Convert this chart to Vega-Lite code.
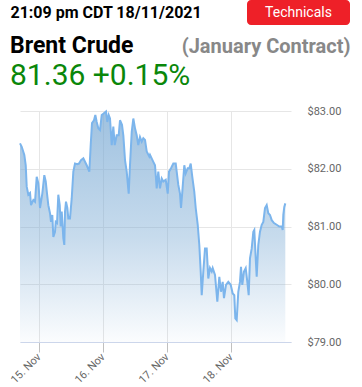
{
  "$schema": "https://vega.github.io/schema/vega-lite/v6.json",
  "width": 271,
  "height": 231,
  "autosize": {"type": "none"},
  "padding": {"left": 20, "top": 111, "right": 71, "bottom": 45},
  "background": "white",
  "config": {"font": "Roboto", "view": {"stroke": null}},
  "title": {
    "text": "Brent Crude",
    "subtitle": "81.36 +0.15%",
    "anchor": "start",
    "frame": "group",
    "dx": -10,
    "offset": -129.5,
    "font": "Roboto",
    "fontSize": 23,
    "fontWeight": "bold",
    "color": "#000000",
    "subtitleFont": "Roboto",
    "subtitleFontSize": 30,
    "subtitleFontWeight": "normal",
    "subtitleColor": "#0a870a",
    "subtitlePadding": 3
  },
  "data": {
    "values": [
      {"t": "2021-11-14T16:52", "p": 82.44},
      {"t": "2021-11-14T17:31", "p": 82.38},
      {"t": "2021-11-14T18:29", "p": 82.24},
      {"t": "2021-11-14T19:01", "p": 82.06},
      {"t": "2021-11-14T19:23", "p": 81.69},
      {"t": "2021-11-14T19:59", "p": 81.55},
      {"t": "2021-11-14T20:38", "p": 81.58},
      {"t": "2021-11-14T21:00", "p": 81.37},
      {"t": "2021-11-14T21:52", "p": 81.46},
      {"t": "2021-11-14T22:30", "p": 81.43},
      {"t": "2021-11-14T23:08", "p": 81.86},
      {"t": "2021-11-14T23:44", "p": 81.75},
      {"t": "2021-11-15T00:00", "p": 81.60},
      {"t": "2021-11-15T00:22", "p": 81.32},
      {"t": "2021-11-15T00:45", "p": 81.43},
      {"t": "2021-11-15T01:14", "p": 81.57},
      {"t": "2021-11-15T01:59", "p": 81.89},
      {"t": "2021-11-15T02:31", "p": 81.78},
      {"t": "2021-11-15T03:00", "p": 81.57},
      {"t": "2021-11-15T03:29", "p": 81.37},
      {"t": "2021-11-15T04:07", "p": 81.23},
      {"t": "2021-11-15T04:30", "p": 81.08},
      {"t": "2021-11-15T04:59", "p": 81.20},
      {"t": "2021-11-15T05:22", "p": 80.82},
      {"t": "2021-11-15T06:00", "p": 80.91},
      {"t": "2021-11-15T06:16", "p": 81.08},
      {"t": "2021-11-15T06:45", "p": 81.06},
      {"t": "2021-11-15T07:14", "p": 81.55},
      {"t": "2021-11-15T07:46", "p": 81.37},
      {"t": "2021-11-15T08:08", "p": 81.00},
      {"t": "2021-11-15T08:31", "p": 81.26},
      {"t": "2021-11-15T09:07", "p": 80.80},
      {"t": "2021-11-15T09:29", "p": 80.68},
      {"t": "2021-11-15T09:45", "p": 81.26},
      {"t": "2021-11-15T10:07", "p": 81.43},
      {"t": "2021-11-15T10:37", "p": 81.32},
      {"t": "2021-11-15T10:59", "p": 81.14},
      {"t": "2021-11-15T11:37", "p": 81.14},
      {"t": "2021-11-15T12:16", "p": 81.49},
      {"t": "2021-11-15T12:52", "p": 81.95},
      {"t": "2021-11-15T13:30", "p": 82.09},
      {"t": "2021-11-15T14:22", "p": 82.08},
      {"t": "2021-11-15T15:00", "p": 82.09},
      {"t": "2021-11-15T15:45", "p": 82.15},
      {"t": "2021-11-15T16:37", "p": 82.18},
      {"t": "2021-11-15T17:53", "p": 82.06},
      {"t": "2021-11-15T18:52", "p": 81.95},
      {"t": "2021-11-15T19:23", "p": 82.41},
      {"t": "2021-11-15T19:52", "p": 82.79},
      {"t": "2021-11-15T20:37", "p": 82.84},
      {"t": "2021-11-15T21:07", "p": 82.93},
      {"t": "2021-11-15T21:38", "p": 82.81},
      {"t": "2021-11-15T22:14", "p": 82.70},
      {"t": "2021-11-15T22:52", "p": 82.67},
      {"t": "2021-11-15T23:31", "p": 82.93},
      {"t": "2021-11-16T00:22", "p": 82.96},
      {"t": "2021-11-16T01:07", "p": 82.99},
      {"t": "2021-11-16T01:37", "p": 82.81},
      {"t": "2021-11-16T02:08", "p": 82.93},
      {"t": "2021-11-16T02:37", "p": 82.87},
      {"t": "2021-11-16T03:16", "p": 82.41},
      {"t": "2021-11-16T03:52", "p": 82.73},
      {"t": "2021-11-16T04:23", "p": 82.41},
      {"t": "2021-11-16T05:08", "p": 82.58},
      {"t": "2021-11-16T05:53", "p": 82.58},
      {"t": "2021-11-16T06:22", "p": 82.84},
      {"t": "2021-11-16T07:07", "p": 82.76},
      {"t": "2021-11-16T07:37", "p": 82.58},
      {"t": "2021-11-16T08:15", "p": 82.15},
      {"t": "2021-11-16T08:53", "p": 81.95},
      {"t": "2021-11-16T09:38", "p": 81.57},
      {"t": "2021-11-16T10:07", "p": 82.06},
      {"t": "2021-11-16T10:46", "p": 82.64},
      {"t": "2021-11-16T11:22", "p": 82.87},
      {"t": "2021-11-16T12:00", "p": 82.70},
      {"t": "2021-11-16T12:38", "p": 82.58},
      {"t": "2021-11-16T13:14", "p": 82.41},
      {"t": "2021-11-16T13:52", "p": 82.55},
      {"t": "2021-11-16T14:31", "p": 82.47},
      {"t": "2021-11-16T15:07", "p": 82.53},
      {"t": "2021-11-16T15:45", "p": 82.50},
      {"t": "2021-11-16T16:23", "p": 82.30},
      {"t": "2021-11-16T17:22", "p": 82.21},
      {"t": "2021-11-16T17:37", "p": 82.24},
      {"t": "2021-11-16T18:52", "p": 82.12},
      {"t": "2021-11-16T19:30", "p": 82.06},
      {"t": "2021-11-16T20:08", "p": 81.66},
      {"t": "2021-11-16T20:44", "p": 81.95},
      {"t": "2021-11-16T21:22", "p": 81.66},
      {"t": "2021-11-16T22:01", "p": 81.83},
      {"t": "2021-11-16T22:37", "p": 81.78},
      {"t": "2021-11-16T23:31", "p": 81.81},
      {"t": "2021-11-17T00:16", "p": 81.57},
      {"t": "2021-11-17T00:45", "p": 81.95},
      {"t": "2021-11-17T01:30", "p": 82.01},
      {"t": "2021-11-17T02:22", "p": 82.09},
      {"t": "2021-11-17T03:16", "p": 82.09},
      {"t": "2021-11-17T03:38", "p": 81.95},
      {"t": "2021-11-17T04:14", "p": 81.72},
      {"t": "2021-11-17T04:52", "p": 81.57},
      {"t": "2021-11-17T05:15", "p": 81.32},
      {"t": "2021-11-17T05:44", "p": 81.60},
      {"t": "2021-11-17T06:29", "p": 82.06},
      {"t": "2021-11-17T07:01", "p": 81.92},
      {"t": "2021-11-17T07:46", "p": 82.01},
      {"t": "2021-11-17T08:22", "p": 82.01},
      {"t": "2021-11-17T08:53", "p": 82.09},
      {"t": "2021-11-17T09:29", "p": 81.86},
      {"t": "2021-11-17T10:14", "p": 81.60},
      {"t": "2021-11-17T10:46", "p": 81.32},
      {"t": "2021-11-17T11:31", "p": 81.03},
      {"t": "2021-11-17T12:07", "p": 80.68},
      {"t": "2021-11-17T12:38", "p": 80.22},
      {"t": "2021-11-17T13:01", "p": 79.81},
      {"t": "2021-11-17T13:37", "p": 80.22},
      {"t": "2021-11-17T14:15", "p": 80.62},
      {"t": "2021-11-17T14:53", "p": 80.62},
      {"t": "2021-11-17T15:29", "p": 80.10},
      {"t": "2021-11-17T16:07", "p": 80.28},
      {"t": "2021-11-17T16:46", "p": 80.22},
      {"t": "2021-11-17T17:08", "p": 80.28},
      {"t": "2021-11-17T18:00", "p": 80.16},
      {"t": "2021-11-17T18:52", "p": 79.70},
      {"t": "2021-11-17T19:37", "p": 80.13},
      {"t": "2021-11-17T20:15", "p": 79.87},
      {"t": "2021-11-17T20:53", "p": 80.04},
      {"t": "2021-11-17T21:22", "p": 79.76},
      {"t": "2021-11-17T22:07", "p": 79.99},
      {"t": "2021-11-17T22:59", "p": 80.04},
      {"t": "2021-11-17T23:53", "p": 79.99},
      {"t": "2021-11-18T00:38", "p": 79.84},
      {"t": "2021-11-18T01:14", "p": 79.81},
      {"t": "2021-11-18T01:37", "p": 79.41},
      {"t": "2021-11-18T02:08", "p": 79.38},
      {"t": "2021-11-18T02:44", "p": 79.87},
      {"t": "2021-11-18T03:22", "p": 80.04},
      {"t": "2021-11-18T03:45", "p": 80.30},
      {"t": "2021-11-18T04:14", "p": 79.99},
      {"t": "2021-11-18T04:52", "p": 80.22},
      {"t": "2021-11-18T05:31", "p": 80.28},
      {"t": "2021-11-18T06:07", "p": 80.04},
      {"t": "2021-11-18T06:38", "p": 79.81},
      {"t": "2021-11-18T07:07", "p": 80.45},
      {"t": "2021-11-18T07:46", "p": 80.62},
      {"t": "2021-11-18T08:22", "p": 80.91},
      {"t": "2021-11-18T08:44", "p": 80.94},
      {"t": "2021-11-18T09:16", "p": 80.45},
      {"t": "2021-11-18T09:38", "p": 80.13},
      {"t": "2021-11-18T10:14", "p": 80.68},
      {"t": "2021-11-18T10:52", "p": 80.91},
      {"t": "2021-11-18T11:31", "p": 81.03},
      {"t": "2021-11-18T12:07", "p": 81.08},
      {"t": "2021-11-18T12:45", "p": 81.32},
      {"t": "2021-11-18T13:23", "p": 81.37},
      {"t": "2021-11-18T13:59", "p": 81.23},
      {"t": "2021-11-18T14:37", "p": 81.20},
      {"t": "2021-11-18T15:16", "p": 81.11},
      {"t": "2021-11-18T16:07", "p": 81.06},
      {"t": "2021-11-18T17:08", "p": 81.03},
      {"t": "2021-11-18T18:07", "p": 81.00},
      {"t": "2021-11-18T19:01", "p": 81.00},
      {"t": "2021-11-18T19:23", "p": 80.94},
      {"t": "2021-11-18T19:37", "p": 81.20},
      {"t": "2021-11-18T19:59", "p": 81.34},
      {"t": "2021-11-18T20:22", "p": 81.40}
    ]
  },
  "encoding": {
    "x": {
      "field": "t",
      "type": "temporal",
      "scale": {
        "domain": [
          {"year": 2021, "month": 11, "date": 14, "hours": 16, "minutes": 52},
          {"year": 2021, "month": 11, "date": 18, "hours": 22, "minutes": 30}
        ]
      },
      "axis": {
        "values": [
          {"year": 2021, "month": 11, "date": 15},
          {"year": 2021, "month": 11, "date": 16},
          {"year": 2021, "month": 11, "date": 17},
          {"year": 2021, "month": 11, "date": 18}
        ],
        "format": "%d. %b",
        "labelAngle": -45,
        "labelAlign": "right",
        "labelBaseline": "middle",
        "labelColor": "#666666",
        "labelFont": "Roboto",
        "labelFontSize": 11,
        "labelPadding": 3,
        "labelFlush": false,
        "labelOverlap": false,
        "grid": true,
        "gridColor": "#e6e6e6",
        "gridWidth": 1,
        "tickColor": "#c0c0c0",
        "tickSize": 10,
        "domainColor": "#ccd6eb",
        "title": "21:09 pm CDT 18/11/2021",
        "titleX": -10,
        "titleY": -325,
        "titleAlign": "left",
        "titleBaseline": "alphabetic",
        "titleAngle": 0,
        "titleFont": "Roboto",
        "titleFontSize": 16,
        "titleFontWeight": "bold",
        "titleColor": "#000000"
      }
    },
    "y": {
      "field": "p",
      "type": "quantitative",
      "scale": {"domain": [79, 83], "zero": false, "nice": false},
      "axis": {
        "orient": "right",
        "values": [79, 80, 81, 82, 83],
        "format": "$.2f",
        "labelColor": "#666666",
        "labelFont": "Roboto",
        "labelFontSize": 11,
        "labelPadding": 16,
        "ticks": false,
        "domain": false,
        "grid": true,
        "gridColor": "#e6e6e6",
        "title": "(January Contract)",
        "titleX": 59,
        "titleY": -58.5,
        "titleAlign": "right",
        "titleBaseline": "alphabetic",
        "titleAngle": 0,
        "titleFont": "Roboto",
        "titleFontSize": 20,
        "titleFontWeight": "bold",
        "titleColor": "#888888"
      }
    }
  },
  "layer": [
    {
      "mark": {
        "type": "area",
        "color": {
          "gradient": "linear",
          "x1": 0, "y1": 0, "x2": 0, "y2": 1,
          "stops": [
            {"offset": 0, "color": "rgba(122,170,212,0.72)"},
            {"offset": 0.55, "color": "rgba(122,170,212,0.42)"},
            {"offset": 1, "color": "rgba(122,170,212,0.03)"}
          ]
        }
      },
      "encoding": {"y2": {"datum": 79}}
    },
    {
      "mark": {"type": "line", "strokeWidth": 2},
      "encoding": {
        "color": {
          "datum": "Technicals",
          "scale": {"domain": ["Technicals"], "range": ["#7cb5ec"]},
          "legend": {
            "title": null,
            "orient": "none",
            "legendX": 227,
            "legendY": -150,
            "padding": 0,
            "symbolType": "M-0.9223,-0.2427H0.9223A0.0777,0.0777 0 0 1 1,-0.165V0.165A0.0777,0.0777 0 0 1 0.9223,0.2427H-0.9223A0.0777,0.0777 0 0 1 -1,0.165V-0.165A0.0777,0.0777 0 0 1 -0.9223,-0.2427Z",
            "symbolSize": 10609,
            "symbolFillColor": "#ee2028",
            "symbolStrokeColor": "#ee2028",
            "symbolStrokeWidth": 0,
            "symbolOpacity": 1,
            "labelColor": "#ffffff",
            "labelFont": "Roboto",
            "labelFontSize": 14,
            "labelAlign": "center",
            "labelBaseline": "middle",
            "labelOffset": -51.5,
            "encode": {
              "symbols": {
                "update": {
                  "fill": {"value": "#ee2028"},
                  "stroke": {"value": "#ee2028"},
                  "strokeWidth": {"value": 0},
                  "opacity": {"value": 1}
                }
              }
            }
          }
        }
      }
    }
  ]
}
